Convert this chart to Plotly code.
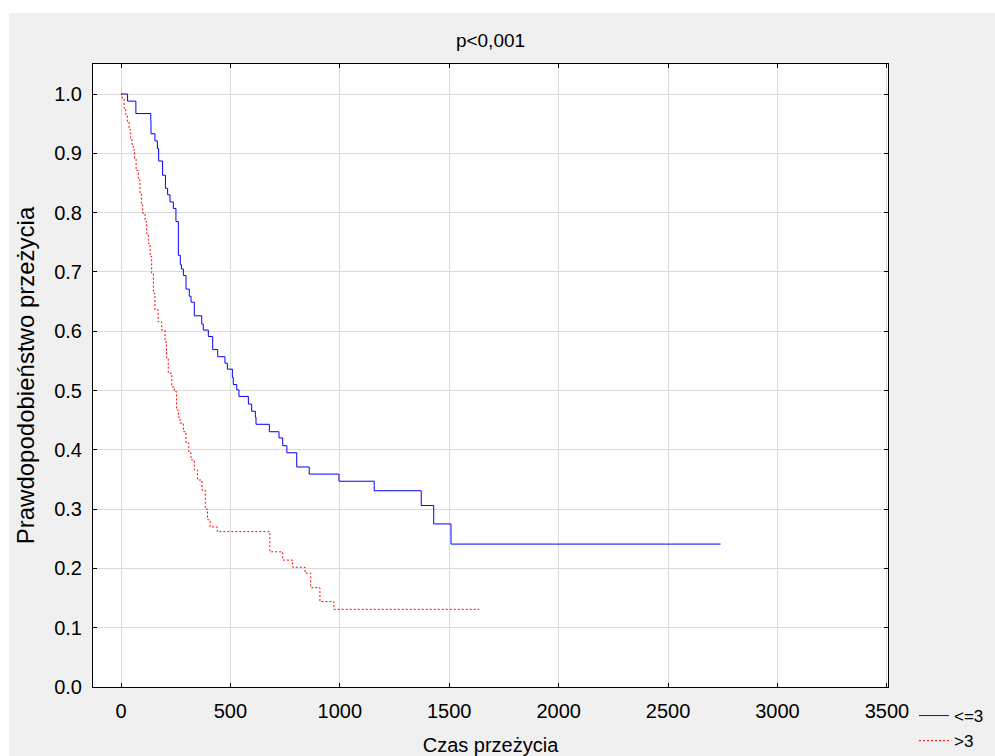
import plotly.graph_objects as go

# Kaplan-Meier step data (time, survival after event)
blue_t = [0, 30, 68, 136, 137, 155, 166, 172, 190, 203, 213, 224, 239, 251, 262, 271, 276, 285,
          297, 312, 320, 335, 369, 376, 399, 419, 442, 475, 486, 509, 513, 529, 539, 582, 597,
          614, 617, 678, 722, 739, 758, 803, 860, 996, 1157, 1372, 1429, 1508, 2740]
blue_s = [1.0, 0.988, 0.967, 0.955, 0.933, 0.921, 0.908, 0.887, 0.863, 0.841, 0.830, 0.818, 0.807,
          0.785, 0.728, 0.712, 0.705, 0.694, 0.671, 0.659, 0.649, 0.626, 0.612, 0.602, 0.591,
          0.569, 0.557, 0.546, 0.536, 0.522, 0.510, 0.501, 0.490, 0.477, 0.465, 0.455, 0.443,
          0.4305, 0.420, 0.407, 0.395, 0.371, 0.359, 0.347, 0.331, 0.306, 0.275, 0.241, 0.241]

red_t = [0, 6, 14, 22, 29, 37, 44, 50, 56, 62, 69, 79, 87, 93, 99, 110, 117, 125, 133, 140, 148,
         155, 170, 186, 201, 208, 216, 232, 244, 254, 262, 270, 285, 297, 310, 320, 335, 350, 370,
         385, 395, 407, 440, 680, 739, 784, 841, 867, 909, 973, 1637]
red_s = [1.0, 0.993, 0.976, 0.965, 0.953, 0.94, 0.925, 0.915, 0.906, 0.89, 0.871, 0.855, 0.833,
         0.815, 0.799, 0.785, 0.765, 0.748, 0.726, 0.698, 0.664, 0.636, 0.616, 0.602, 0.582,
         0.555, 0.529, 0.506, 0.498, 0.467, 0.455, 0.445, 0.4305, 0.411, 0.395, 0.383, 0.366,
         0.349, 0.332, 0.30, 0.282, 0.27, 0.262, 0.228, 0.214, 0.202, 0.192, 0.1675, 0.144,
         0.131, 0.131]

x_ticks = [0, 500, 1000, 1500, 2000, 2500, 3000, 3500]
y_ticks = [0.0, 0.1, 0.2, 0.3, 0.4, 0.5, 0.6, 0.7, 0.8, 0.9, 1.0]
y_tick_text = [f"{v:.1f}" for v in y_ticks]

FONT = "Arial, Liberation Sans, sans-serif"

fig = go.Figure()
fig.add_trace(go.Scatter(x=blue_t, y=blue_s, mode="lines", name="<=3",
                         line=dict(color="#0000ff", width=1, shape="hv")))
fig.add_trace(go.Scatter(x=red_t, y=red_s, mode="lines", name=">3",
                         line=dict(color="#ff0000", width=1, shape="hv", dash="2px,2px")))

axis_common = dict(showline=True, linecolor="black", linewidth=1, mirror="ticks",
                   ticks="inside", ticklen=4, tickcolor="black", tickwidth=1,
                   showgrid=True, gridcolor="#dadada", gridwidth=1, zeroline=False,
                   tickfont=dict(family=FONT, size=20, color="black"))

fig.update_xaxes(range=[-128, 3505], tickvals=x_ticks, ticktext=[str(v) for v in x_ticks],
                 ticklabelstandoff=6,
                 title=dict(text="Czas przeżycia", font=dict(family=FONT, size=20, color="black"),
                            standoff=16),
                 **axis_common)
fig.update_yaxes(range=[0, 1.0506], tickvals=y_ticks, ticktext=y_tick_text,
                 ticklabelstandoff=6,
                 title=dict(text="Prawdopodobieństwo przeżycia",
                            font=dict(family=FONT, size=24, color="black"), standoff=12),
                 **axis_common)

W, H = 995, 756
L, R, T, B = 93, 107, 64, 69
pw, ph = W - L - R, H - T - B

fig.update_layout(
    width=W, height=H, autosize=False,
    margin=dict(l=L, r=R, t=T, b=B, autoexpand=False),
    paper_bgcolor="#f0f0f0", plot_bgcolor="white",
    title=dict(text="p<0,001", x=(L + pw / 2) / W, xanchor="center",
               y=1 - 40 / H, yanchor="middle",
               font=dict(family=FONT, size=19, color="black")),
    legend=dict(x=(914 - L) / pw, y=(T + ph - 698) / ph,
                xanchor="left", yanchor="top", bgcolor="rgba(0,0,0,0)",
                font=dict(family=FONT, size=17, color="black"), tracegroupgap=0,
                itemwidth=30),
    showlegend=True,
    shapes=[
        dict(type="rect", xref="paper", yref="paper", x0=-L / pw - 0.01, x1=(W - L) / pw + 0.01,
             y0=1 + (T - 13) / ph, y1=1 + T / ph + 0.01, fillcolor="white", line=dict(width=0),
             layer="below"),
        dict(type="rect", xref="paper", yref="paper", x0=-L / pw - 0.01, x1=-(L - 9) / pw,
             y0=-B / ph - 0.01, y1=1 + T / ph + 0.01, fillcolor="white", line=dict(width=0),
             layer="below"),
    ],
)

fig.write_html("out.html")
